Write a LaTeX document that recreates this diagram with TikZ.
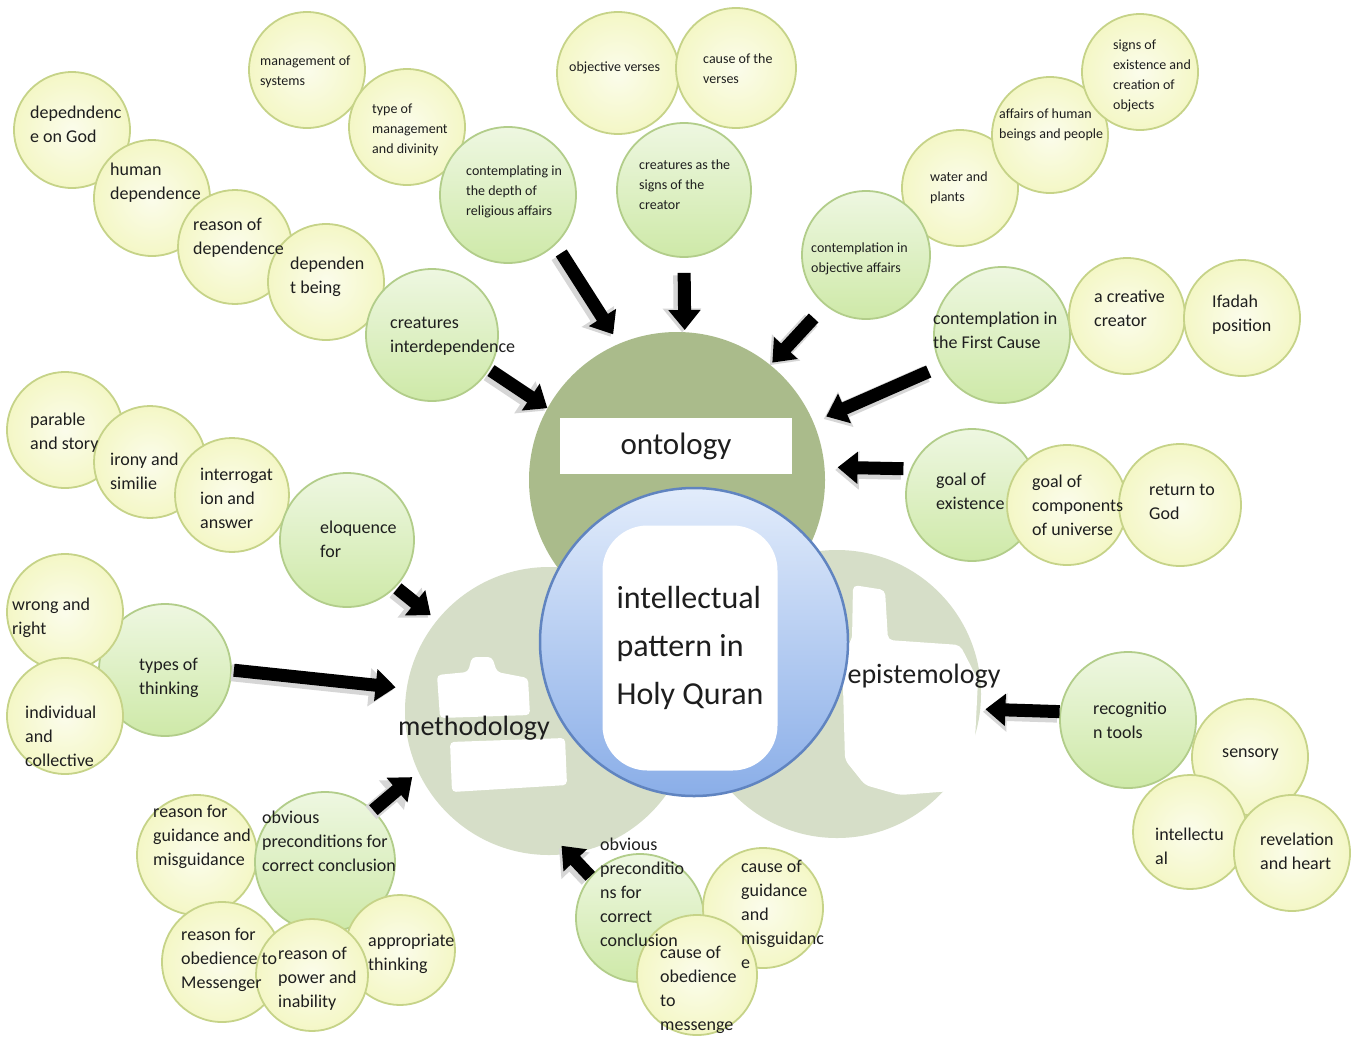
\documentclass[tikz,border=0pt]{standalone}
\usepackage{fontspec}
\setmainfont{Carlito}
\usepackage{tikz}
\usetikzlibrary{arrows.meta}
\usepackage{xcolor}
\definecolor{ybfill}{RGB}{244,247,198}
\definecolor{ybedge}{RGB}{198,211,136}
\definecolor{gbtop}{RGB}{238,247,225}
\definecolor{gbfill}{RGB}{206,233,168}
\definecolor{gbedge}{RGB}{178,205,138}
\definecolor{ontofill}{RGB}{170,187,139}
\definecolor{sidefill}{RGB}{214,222,200}
\definecolor{qtop}{RGB}{226,236,251}
\definecolor{qbot}{RGB}{138,174,232}
\definecolor{qedge}{RGB}{96,132,192}
\definecolor{txtgrey}{RGB}{30,30,30}

\begin{document}
\begin{tikzpicture}[x=1pt, y=-1pt,
    ybub/.style={circle, draw=ybedge, line width=1.8pt, inner sep=0pt, minimum size=#1,
                 inner color=ybfill!35!white, outer color=ybfill},
    ybub/.default=116,
    gbub/.style={circle, draw=gbedge, line width=1.8pt, inner sep=0pt, minimum size=#1,
                 top color=gbtop, bottom color=gbfill},
    gbub/.default=134,
    area/.style={circle, inner sep=0pt, minimum size=#1},
    mtxt/.style={anchor=west, inner sep=0pt, align=left, text=txtgrey, font=\fontsize{18}{24}\selectfont},
    stxt/.style={mtxt, font=\fontsize{14}{20}\selectfont},
    head/.style={inner sep=0pt, text=txtgrey, font=\fontsize{28}{34}\selectfont},
    bigarrow/.style={draw=black, line width=13pt, -{Triangle[width=31pt,length=20pt]},
                 preaction={draw=black!16, line width=17pt, -{Triangle[width=37pt,length=24pt]},
                            transform canvas={shift={(-2.5pt,-2.5pt)}}}}
]
    \useasboundingbox (0,0) rectangle (1356,1042);
    \fill[white] (0,0) rectangle (1356,1042);

    % the three fields round the core
    \node[area=288, fill=sidefill] (meth) at (549,711) {};
    \node[area=288, fill=sidefill] (epis) at (837,694) {};
    \node[area=296, fill=ontofill] (onto) at (677,480) {};
    \fill[white, rounded corners=4pt] (437,675) -- (468,672) -- (472,657) -- (492,657) -- (497,672) -- (528,678) -- (530,715) -- (440,718) -- cycle;
    \fill[white, rounded corners=4pt] (450,742) -- (565,738) -- (567,785) -- (452,792) -- cycle;
    \fill[white, rounded corners=5pt] (853,585) -- (885,590) -- (888,640) -- (960,645) -- (978,680) -- (975,740) -- (965,790) -- (900,795) -- (865,785) -- (845,760) -- (842,650) -- (852,640) -- cycle;
    \node[circle, draw=qedge, line width=2.5pt, minimum size=308, top color=qtop, bottom color=qbot] (quran) at (694,642) {};

    \node[head, fill=white, minimum width=232, minimum height=56, font=\fontsize{31}{36}\selectfont] (onto-l) at (676,446) {ontology};
    \node[head] (meth-l) at (474,728) {methodology};
    \node[head] (epis-l) at (924,676) {epistemology};
    \node[fill=white, rounded corners=45pt, minimum width=175, minimum height=245, align=left,
          text=txtgrey, font=\fontsize{32}{48}\selectfont] (quran-l) at (690,648) {intellectual\\pattern in\\Holy Quran};

    % ontology branches
    \node[ybub] (dgod) at (72,130) {};
    \node[ybub] (hdep) at (152,198) {};
    \node[ybub=114] (rdep) at (235,247) {};
    \node[ybub] (dbeing) at (326,282) {};
    \node[gbub=132] (cint) at (432,335) {};
    \node[ybub] (msys) at (307,70) {};
    \node[ybub] (tman) at (407,127) {};
    \node[gbub=136] (cdepth) at (508,195) {};
    \node[ybub=122] (overs) at (618,73) {};
    \node[ybub=120] (cverses) at (736,68) {};
    \node[gbub] (csigns) at (684,190) {};
    \node[ybub] (wplants) at (960,188) {};
    \node[ybub] (ahuman) at (1050,135) {};
    \node[ybub] (sexist) at (1140,72) {};
    \node[gbub=128] (cobj) at (866,255) {};
    \node[gbub=136] (cfirst) at (1002,335) {};
    \node[ybub] (ccreator) at (1127,316) {};
    \node[ybub] (ifadah) at (1242,318) {};
    \node[gbub=132] (gexist) at (972,495) {};
    \node[ybub=120] (gcomp) at (1067,505) {};
    \node[ybub=122] (rgod) at (1180,505) {};

    % epistemology branch
    \node[gbub=136] (rtools) at (1128,720) {};
    \node[ybub] (sensory) at (1250,757) {};
    \node[ybub=114] (intel) at (1190,832) {};
    \node[ybub] (revel) at (1292,853) {};

    % methodology branches
    \node[ybub] (parable) at (65,430) {};
    \node[ybub=112] (irony) at (150,462) {};
    \node[ybub=114] (interr) at (232,495) {};
    \node[gbub] (eloq) at (347,540) {};
    \node[gbub=132] (types) at (165,670) {};
    \node[ybub] (wright) at (65,612) {};
    \node[ybub] (indiv) at (65,716) {};
    \node[ybub=120] (rguid) at (197,855) {};
    \node[gbub=140] (obvpre) at (325,862) {};
    \node[ybub=120] (robed) at (222,962) {};
    \node[ybub=110] (approp) at (400,950) {};
    \node[ybub=112] (rpower) at (312,975) {};
    \node[gbub=128] (obvpre2) at (640,918) {};
    \node[ybub=120] (cguid) at (763,908) {};
    \node[ybub=120] (cobed) at (697,975) {};

    % arrows into the fields
    \draw[bigarrow, shorten <=10pt, shorten >=11pt] (cdepth.-46) -- (onto.113);
    \draw[bigarrow, shorten <=15pt, shorten >=2pt] (csigns.-90) -- (onto.87);
    \draw[bigarrow, shorten <=17pt, shorten >=3pt] (cobj.-129) -- (onto.51);
    \draw[bigarrow, shorten <=13pt, shorten >=14pt] (cfirst.-153) -- (onto.23);
    \draw[bigarrow, shorten <=7pt, shorten >=13pt] (gexist.157) -- (onto.5);
    \draw[bigarrow, shorten <=2pt] (cint.-31) -- (onto.151);
    \draw[bigarrow, shorten <=2pt, shorten >=8pt] (eloq.-44) -- (meth.141);
    \draw[bigarrow, shorten <=2pt, shorten >=11pt] (types.0) -- (meth.171);
    \draw[bigarrow, shorten >=8pt] (obvpre.47) -- (meth.-155);
    \draw[bigarrow, shorten >=-11pt] (obvpre2.140) -- (meth.-82);
    \draw[bigarrow, shorten >=5pt] (rtools.173) -- (epis.-6);

    % bubble texts
    \node[mtxt] (t-dgod) at (30,124) {depedndenc\\e on God};
    \node[mtxt] (t-hdep) at (110,183) {human\\dependence};
    \node[mtxt] (t-rdep) at (193,238) {reason of\\dependence};
    \node[mtxt] (t-dbeing) at (290,277) {dependen\\t being};
    \node[mtxt] (t-cint) at (390,336) {creatures\\interdependence};
    \node[stxt] (t-msys) at (260,72) {management of\\systems};
    \node[stxt] (t-tman) at (372,130) {type of\\management\\and divinity};
    \node[stxt] (t-cdepth) at (466,192) {contemplating in\\the depth of\\religious affairs};
    \node[stxt] (t-overs) at (569,68) {objective verses};
    \node[stxt] (t-cverses) at (703,69) {cause of the\\verses};
    \node[stxt] (t-csigns) at (639,185) {creatures as the\\signs of the\\creator};
    \node[stxt] (t-cobj) at (811,259) {contemplation in\\objective affairs};
    \node[stxt] (t-wplants) at (930,188) {water and\\plants};
    \node[stxt] (t-ahuman) at (999,125) {affairs of human\\beings and people};
    \node[stxt] (t-sexist) at (1113,76) {signs of\\existence and\\creation of\\objects};
    \node[mtxt] (t-cfirst) at (933,330) {contemplation in\\the First Cause};
    \node[mtxt] (t-ccreator) at (1094,308) {a creative\\creator};
    \node[mtxt] (t-ifadah) at (1212,315) {Ifadah\\position};
    \node[mtxt] (t-gexist) at (936,491) {goal of\\existence};
    \node[mtxt] (t-gcomp) at (1032,505) {goal of\\components\\of universe};
    \node[mtxt] (t-rgod) at (1149,502) {return to\\God};
    \node[mtxt] (t-rtools) at (1093,720) {recognitio\\n tools};
    \node[mtxt] (t-sensory) at (1222,755) {sensory};
    \node[mtxt] (t-intel) at (1155,846) {intellectu\\al};
    \node[mtxt] (t-revel) at (1260,851) {revelation\\and heart};
    \node[mtxt] (t-parable) at (30,433) {parable\\and story};
    \node[mtxt] (t-irony) at (110,471) {irony and\\similie};
    \node[mtxt] (t-interr) at (200,498) {interrogat\\ion and\\answer};
    \node[mtxt] (t-eloq) at (320,539) {eloquence\\for};
    \node[mtxt] (t-wright) at (12,618) {wrong and\\right};
    \node[mtxt] (t-indiv) at (25,736) {individual\\and\\collective};
    \node[mtxt] (t-types) at (139,678) {types of\\thinking};
    \node[mtxt] (t-rguid) at (153,837) {reason for\\guidance and\\misguidance};
    \node[mtxt] (t-obvpre) at (262,841) {obvious\\preconditions for\\correct conclusion};
    \node[mtxt] (t-robed) at (181,960) {reason for\\obedience to\\Messenger};
    \node[mtxt] (t-rpower) at (278,979) {reason of\\power and\\inability};
    \node[mtxt] (t-approp) at (368,954) {appropriate\\thinking};
    \node[mtxt] (t-obvpre2) at (600,892) {obvious\\preconditio\\ns for\\correct\\conclusion};
    \node[mtxt] (t-cguid) at (741,914) {cause of\\guidance\\and\\misguidanc\\e};
    \node[mtxt] (t-cobed) at (660,990) {cause of\\obedience\\to\\messenge};
\end{tikzpicture}
\end{document}
